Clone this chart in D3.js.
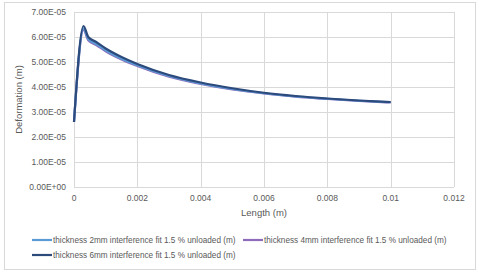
<!DOCTYPE html>
<html>
<head>
<meta charset="utf-8">
<script src="https://cdn.jsdelivr.net/npm/d3@7"></script>
<style>
  body { margin: 0; background: #fff; }
  svg { display: block; font-family: "Liberation Sans", "DejaVu Sans", sans-serif; }
</style>
</head>
<body>
<div class="chart"></div>
<script>
// data
const lengths = [0, 0.0003, 0.00045, 0.0007, 0.001, 0.0015, 0.002, 0.003, 0.004, 0.005, 0.006, 0.007, 0.008, 0.009, 0.01]
const thick2 = [2.6e-5, 6.34e-5, 5.92e-5, 5.72e-5, 5.47e-5, 5.13e-5, 4.87e-5, 4.44e-5, 4.14e-5, 3.92e-5, 3.75e-5, 3.62e-5, 3.53e-5, 3.45e-5, 3.39e-5]
const thick4 = [2.6e-5, 6.28e-5, 5.87e-5, 5.68e-5, 5.43e-5, 5.10e-5, 4.84e-5, 4.41e-5, 4.12e-5, 3.90e-5, 3.74e-5, 3.61e-5, 3.52e-5, 3.44e-5, 3.38e-5]
const thick6 = [2.6e-5, 6.44e-5, 6.0e-5, 5.8e-5, 5.54e-5, 5.2e-5, 4.92e-5, 4.48e-5, 4.18e-5, 3.95e-5, 3.77e-5, 3.64e-5, 3.54e-5, 3.46e-5, 3.40e-5]
const seriesNames = [
    'thickness 2mm interference fit 1.5 % unloaded (m)',
    'thickness 4mm interference fit 1.5 % unloaded (m)',
    'thickness 6mm interference fit 1.5 % unloaded (m)'
]
const seriesColors = ['#5b9bd5', '#8e6bbb', '#2c4a7c']
const xTicks = [0, 0.002, 0.004, 0.006, 0.008, 0.01, 0.012]
const yTicks = [0, 1e-5, 2e-5, 3e-5, 4e-5, 5e-5, 6e-5, 7e-5]

const W = 480, H = 272
const svg = d3.select('.chart').append('svg')
    .attr('width', W)
    .attr('height', H)

// chart frame
svg.append('rect')
    .attr('x', 4.5).attr('y', 2.5)
    .attr('width', 471).attr('height', 267)
    .attr('fill', '#fff')
    .attr('stroke', '#d9d9d9')

const x = d3.scaleLinear().domain([0, 0.012]).range([74, 454])
const y = d3.scaleLinear().domain([0, 7e-5]).range([187, 12])

// grid
svg.append('g').selectAll('line.h')
    .data(yTicks).enter().append('line')
    .attr('x1', x(0)).attr('x2', x(0.012))
    .attr('y1', d => Math.round(y(d)) + 0.5)
    .attr('y2', d => Math.round(y(d)) + 0.5)
    .attr('stroke', '#d9d9d9')
svg.append('g').selectAll('line.v')
    .data(xTicks).enter().append('line')
    .attr('x1', d => Math.round(x(d)) + 0.5)
    .attr('x2', d => Math.round(x(d)) + 0.5)
    .attr('y1', y(7e-5)).attr('y2', y(0))
    .attr('stroke', '#d9d9d9')

// tick labels
svg.append('g').selectAll('text')
    .data(yTicks).enter().append('text')
    .attr('x', 66)
    .attr('y', d => y(d) + 3)
    .attr('text-anchor', 'end')
    .attr('font-size', '8.5px')
    .attr('fill', '#595959')
    .text(d => d === 0 ? '0.00E+00' : d3.format('.2e')(d).replace('e-', 'E-0'))

svg.append('g').selectAll('text')
    .data(xTicks).enter().append('text')
    .attr('x', d => x(d))
    .attr('y', 201)
    .attr('text-anchor', 'middle')
    .attr('font-size', '8.5px')
    .attr('fill', '#595959')
    .text(d => d)

// axis titles
svg.append('text')
    .attr('x', x(0.006)).attr('y', 216)
    .attr('text-anchor', 'middle')
    .attr('font-size', '9.5px')
    .attr('fill', '#595959')
    .text('Length (m)')
svg.append('text')
    .attr('transform', `translate(22, ${(y(0) + y(7e-5)) / 2}) rotate(-90)`)
    .attr('text-anchor', 'middle')
    .attr('font-size', '9.5px')
    .attr('fill', '#595959')
    .text('Deformation (m)')

// lines
const line = d3.line()
    .x(d => x(d[0]))
    .y(d => y(d[1]))
    .curve(d3.curveMonotoneX)

const allSeries = [thick2, thick4, thick6]
// draw 4mm first, then 2mm, then 6mm on top
const order = [1, 0, 2]
order.forEach(i => {
    svg.append('path')
        .datum(lengths.map((l, j) => [l, allSeries[i][j]]))
        .attr('fill', 'none')
        .attr('stroke', seriesColors[i])
        .attr('stroke-width', 2.2)
        .attr('stroke-linejoin', 'round')
        .attr('d', line)
})

// legend
const legendPos = [[32, 240], [243, 240], [32, 255]]
const legend = svg.append('g').selectAll('g')
    .data(seriesNames).enter().append('g')
    .attr('transform', (d, i) => `translate(${legendPos[i][0]}, ${legendPos[i][1]})`)
legend.append('line')
    .attr('x1', 0).attr('x2', 20)
    .attr('stroke', (d, i) => seriesColors[i])
    .attr('stroke-width', 2.2)
legend.append('text')
    .attr('x', 21).attr('y', 3)
    .attr('font-size', '8.2px')
    .attr('fill', '#595959')
    .text(d => d)
</script>
</body>
</html>
